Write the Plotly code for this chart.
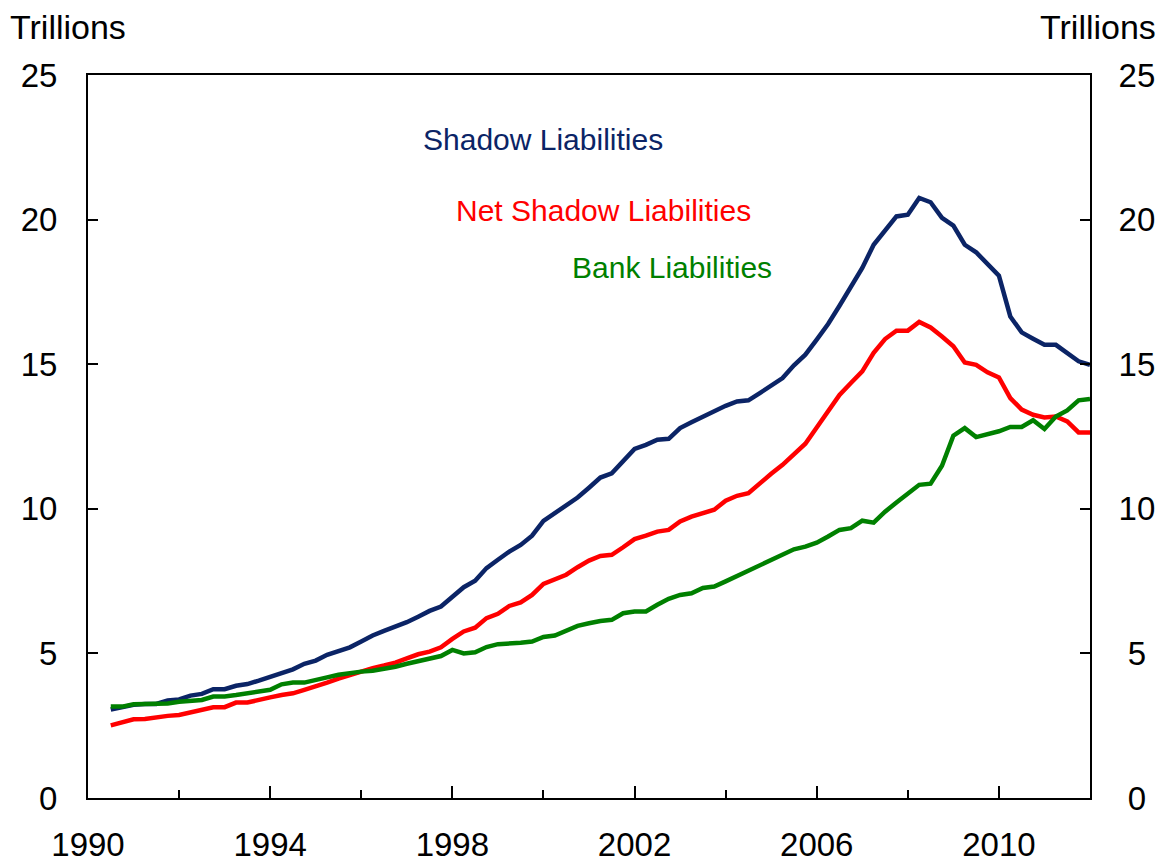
import plotly.graph_objects as go

# Quarterly observations, 1990Q3 .. 2012Q1 (plotted at fractional years)
start_year = 1990.5
shadow_liabilities = [
    3.06, 3.13,
    3.22, 3.25, 3.25, 3.37,
    3.41, 3.54, 3.60, 3.76,
    3.76, 3.88, 3.94, 4.06,
    4.18, 4.34, 4.45, 4.64,
    4.75, 4.95, 5.10, 5.21,
    5.41, 5.62, 5.78, 5.91,
    6.08, 6.27, 6.47, 6.62,
    6.97, 7.29, 7.51, 7.95,
    8.24, 8.52, 8.75, 9.07,
    9.58, 9.85, 10.08, 10.39,
    10.73, 11.08, 11.23, 11.64,
    12.07, 12.21, 12.39, 12.42,
    12.79, 12.99, 13.19, 13.40,
    13.56, 13.71, 13.75, 14.00,
    14.26, 14.52, 14.96, 15.33,
    15.85, 16.39, 17.02, 17.68,
    18.33, 19.13, 19.65, 20.11,
    20.17, 20.75, 20.60, 20.06,
    19.79, 19.13, 18.87, 18.44,
    18.06, 16.65, 16.10, 15.88,
    15.67, 15.67, 15.39, 15.10,
    14.98,
]
net_shadow_liabilities = [
    2.51, 2.61,
    2.72, 2.73, 2.79, 2.84,
    2.87, 2.95, 3.04, 3.14,
    3.14, 3.30, 3.30, 3.41,
    3.48, 3.56, 3.62, 3.74,
    3.85, 3.99, 4.13, 4.26,
    4.37, 4.49, 4.58, 4.68,
    4.83, 4.97, 5.06, 5.21,
    5.50, 5.76, 5.89, 6.22,
    6.37, 6.64, 6.76, 7.02,
    7.40, 7.54, 7.72, 7.98,
    8.21, 8.37, 8.41, 8.67,
    8.95, 9.07, 9.21, 9.27,
    9.56, 9.73, 9.87, 9.97,
    10.28, 10.45, 10.54, 10.89,
    11.21, 11.52, 11.90, 12.25,
    12.81, 13.39, 13.94, 14.35,
    14.75, 15.39, 15.87, 16.16,
    16.16, 16.46, 16.27, 15.96,
    15.62, 15.06, 14.98, 14.72,
    14.54, 13.83, 13.43, 13.25,
    13.16, 13.19, 13.02, 12.64,
    12.64,
]
bank_liabilities = [
    3.16, 3.16,
    3.24, 3.24, 3.24, 3.27,
    3.33, 3.37, 3.39, 3.51,
    3.51, 3.56, 3.62, 3.68,
    3.74, 3.93, 3.99, 3.99,
    4.10, 4.17, 4.26, 4.33,
    4.37, 4.40, 4.46, 4.54,
    4.64, 4.74, 4.83, 4.91,
    5.12, 5.00, 5.04, 5.22,
    5.32, 5.33, 5.37, 5.41,
    5.57, 5.62, 5.79, 5.95,
    6.04, 6.12, 6.16, 6.39,
    6.45, 6.45, 6.68, 6.89,
    7.02, 7.08, 7.26, 7.31,
    7.49, 7.68, 7.85, 8.06,
    8.24, 8.44, 8.60, 8.69,
    8.83, 9.04, 9.27, 9.33,
    9.59, 9.52, 9.90, 10.22,
    10.51, 10.83, 10.87, 11.49,
    12.53, 12.79, 12.48, 12.56,
    12.68, 12.83, 12.83, 13.06,
    12.76, 13.19, 13.40, 13.75,
    13.80,
]
quarters = [start_year + 0.25 * i for i in range(len(shadow_liabilities))]

x_tickvals = [1990, 1994, 1998, 2002, 2006, 2010]
y_tickvals = [0, 5, 10, 15, 20, 25]
# right-hand labels are centred in the reference, so pad single digits
y2_ticktext = [("\u00a0" + str(v)) if v < 10 else str(v) for v in y_tickvals]

NAVY = "#0B2466"
RED = "#FF0000"
GREEN = "#008000"
FONT = "Liberation Sans, Arial, sans-serif"
TICK_SIZE = 33

fig = go.Figure()
fig.add_trace(go.Scatter(x=quarters, y=shadow_liabilities, mode="lines",
                         line=dict(color=NAVY, width=4.5), name="Shadow Liabilities"))
fig.add_trace(go.Scatter(x=quarters, y=net_shadow_liabilities, mode="lines",
                         line=dict(color=RED, width=4.5), name="Net Shadow Liabilities"))
fig.add_trace(go.Scatter(x=quarters, y=bank_liabilities, mode="lines",
                         line=dict(color=GREEN, width=4.5), name="Bank Liabilities"))
# invisible trace to anchor the right-hand axis
fig.add_trace(go.Scatter(x=quarters, y=bank_liabilities, yaxis="y2", mode="lines",
                         line=dict(color="rgba(0,0,0,0)", width=0),
                         hoverinfo="skip", showlegend=False))

# the page body adds an 8px offset, so the figure is sized/margined to compensate
fig.update_layout(
    width=1157, height=858,
    margin=dict(l=80, r=75, t=67, b=68, autoexpand=False),
    paper_bgcolor="white", plot_bgcolor="white",
    showlegend=False,
    font=dict(family=FONT, size=TICK_SIZE, color="black"),
    xaxis=dict(
        range=[1990, 2012], tickvals=x_tickvals, ticktext=[str(v) for v in x_tickvals],
        ticks="inside", ticklen=12, tickwidth=1.5, tickcolor="black",
        minor=dict(dtick=2, tick0=1990, ticks="inside", ticklen=8, tickwidth=1.5, tickcolor="black"),
        showline=True, linecolor="black", linewidth=2, mirror=True,
        showgrid=False, zeroline=False, ticklabelstandoff=16, automargin=False,
        tickfont=dict(family=FONT, size=TICK_SIZE),
    ),
    yaxis=dict(
        range=[0, 25], tickvals=y_tickvals,
        ticks="inside", ticklen=10, tickwidth=1.5, tickcolor="black",
        showline=True, linecolor="black", linewidth=2,
        showgrid=False, zeroline=False, ticklabelstandoff=22, automargin=False,
        tickfont=dict(family=FONT, size=TICK_SIZE),
    ),
    yaxis2=dict(
        range=[0, 25], tickvals=y_tickvals, ticktext=y2_ticktext,
        overlaying="y", side="right",
        ticks="inside", ticklen=10, tickwidth=1.5, tickcolor="black",
        showline=True, linecolor="black", linewidth=2,
        showgrid=False, zeroline=False, ticklabelstandoff=20, automargin=False,
        tickfont=dict(family=FONT, size=TICK_SIZE),
    ),
    annotations=[
        dict(text="Trillions", xref="paper", yref="paper", x=0, y=1, xshift=-80, yshift=27,
             xanchor="left", yanchor="bottom", showarrow=False, font=dict(size=34)),
        dict(text="Trillions", xref="paper", yref="paper", x=1, y=1, xshift=68, yshift=27,
             xanchor="right", yanchor="bottom", showarrow=False, font=dict(size=34)),
        dict(text="Shadow Liabilities", xref="x", yref="y", x=2000.0, y=22.77,
             showarrow=False, font=dict(size=30, color=NAVY)),
        dict(text="Net Shadow Liabilities", xref="x", yref="y", x=2001.31, y=20.31,
             showarrow=False, font=dict(size=30, color=RED)),
        dict(text="Bank Liabilities", xref="x", yref="y", x=2002.82, y=18.34,
             showarrow=False, font=dict(size=30, color=GREEN)),
    ],
)

fig.write_html("out.html")
